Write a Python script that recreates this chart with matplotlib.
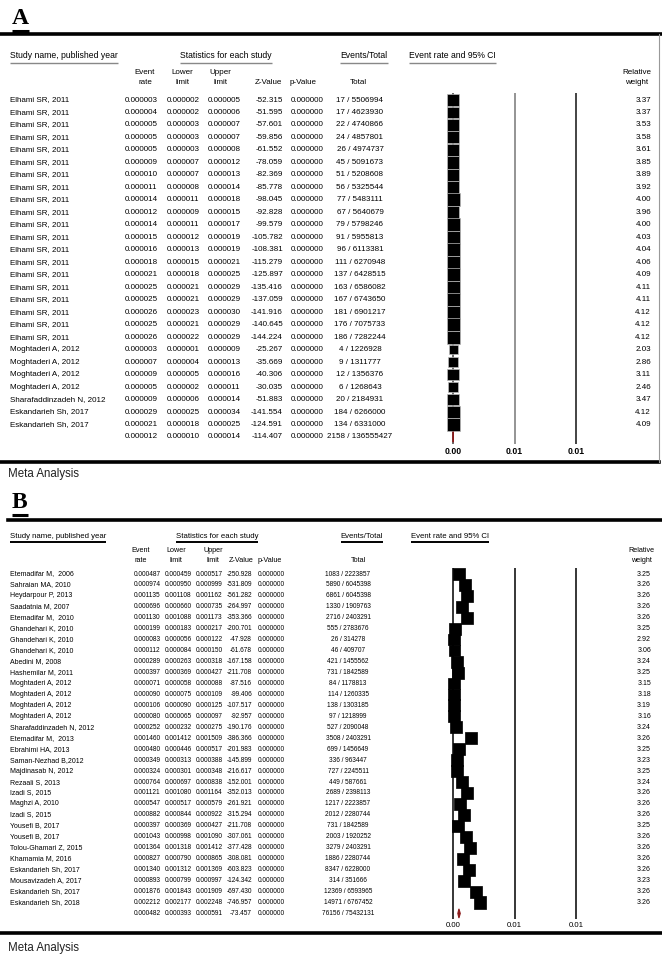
import numpy as np
import matplotlib.pyplot as plt
from matplotlib import font_manager
from matplotlib.ticker import FormatStrFormatter

plt.rcParams['font.family'] = ['Liberation Sans', 'DejaVu Sans']

# ---------------- Panel A data ----------------
a_names = ["Elhami SR, 2011"] * 20 + ["Moghtaderi A, 2012"] * 4 + \
          ["Sharafaddinzadeh N, 2012", "Eskandarieh Sh, 2017", "Eskandarieh Sh, 2017"]
a_rate = [0.000003, 0.000004, 0.000005, 0.000005, 0.000005, 0.000009, 0.000010, 0.000011,
          0.000014, 0.000012, 0.000014, 0.000015, 0.000016, 0.000018, 0.000021, 0.000025,
          0.000025, 0.000026, 0.000025, 0.000026, 0.000003, 0.000007, 0.000009, 0.000005,
          0.000009, 0.000029, 0.000021]
a_lower = [0.000002, 0.000002, 0.000003, 0.000003, 0.000003, 0.000007, 0.000007, 0.000008,
           0.000011, 0.000009, 0.000011, 0.000012, 0.000013, 0.000015, 0.000018, 0.000021,
           0.000021, 0.000023, 0.000021, 0.000022, 0.000001, 0.000004, 0.000005, 0.000002,
           0.000006, 0.000025, 0.000018]
a_upper = [0.000005, 0.000006, 0.000007, 0.000007, 0.000008, 0.000012, 0.000013, 0.000014,
           0.000018, 0.000015, 0.000017, 0.000019, 0.000019, 0.000021, 0.000025, 0.000029,
           0.000029, 0.000030, 0.000029, 0.000029, 0.000009, 0.000013, 0.000016, 0.000011,
           0.000014, 0.000034, 0.000025]
a_z = [-52.315, -51.595, -57.601, -59.856, -61.552, -78.059, -82.369, -85.778, -98.045,
       -92.828, -99.579, -105.782, -108.381, -115.279, -125.897, -135.416, -137.059,
       -141.916, -140.645, -144.224, -25.267, -35.669, -40.306, -30.035, -51.883,
       -141.554, -124.591]
a_events = [17, 17, 22, 24, 26, 45, 51, 56, 77, 67, 79, 91, 96, 111, 137, 163, 167, 181,
            176, 186, 4, 9, 12, 6, 20, 184, 134]
a_total = [5506994, 4623930, 4740866, 4857801, 4974737, 5091673, 5208608, 5325544, 5483111,
           5640679, 5798246, 5955813, 6113381, 6270948, 6428515, 6586082, 6743650, 6901217,
           7075733, 7282244, 1226928, 1311777, 1356376, 1268643, 2184931, 6266000, 6331000]
a_weight = [3.37, 3.37, 3.53, 3.58, 3.61, 3.85, 3.89, 3.92, 4.00, 3.96, 4.00, 4.03, 4.04,
            4.06, 4.09, 4.11, 4.11, 4.12, 4.12, 4.12, 2.03, 2.86, 3.11, 2.46, 3.47, 4.12, 4.09]
# pooled: rate, lower, upper, z, events, total
a_pooled = [0.000012, 0.000010, 0.000014, -114.407, 2158, 136555427]

# ---------------- Panel B data ----------------
b_names = ["Etemadifar M,  2006", "Sahraian MA, 2010", "Heydarpour P, 2013", "Saadatnia M, 2007",
           "Etemadifar M,  2010", "Ghandehari K, 2010", "Ghandehari K, 2010", "Ghandehari K, 2010",
           "Abedini M, 2008", "Hashemilar M, 2011", "Moghtaderi A, 2012", "Moghtaderi A, 2012",
           "Moghtaderi A, 2012", "Moghtaderi A, 2012", "Sharafaddinzadeh N, 2012",
           "Etemadifar M,  2013", "Ebrahimi HA, 2013", "Saman-Nezhad B,2012", "Majdinasab N, 2012",
           "Rezaali S, 2013", "Izadi S, 2015", "Maghzi A, 2010", "Izadi S, 2015", "Yousefi B, 2017",
           "Yousefi B, 2017", "Tolou-Ghamari Z, 2015", "Khamamia M, 2016", "Eskandarieh Sh, 2017",
           "Mousavizadeh A, 2017", "Eskandarieh Sh, 2017", "Eskandarieh Sh, 2018"]
b_rate = [0.000487, 0.000974, 0.001135, 0.000696, 0.001130, 0.000199, 0.000083, 0.000112,
          0.000289, 0.000397, 0.000071, 0.000090, 0.000106, 0.000080, 0.000252, 0.001460,
          0.000480, 0.000349, 0.000324, 0.000764, 0.001121, 0.000547, 0.000882, 0.000397,
          0.001043, 0.001364, 0.000827, 0.001340, 0.000893, 0.001876, 0.002212]
b_lower = [0.000459, 0.000950, 0.001108, 0.000660, 0.001088, 0.000183, 0.000056, 0.000084,
           0.000263, 0.000369, 0.000058, 0.000075, 0.000090, 0.000065, 0.000232, 0.001412,
           0.000446, 0.000313, 0.000301, 0.000697, 0.001080, 0.000517, 0.000844, 0.000369,
           0.000998, 0.001318, 0.000790, 0.001312, 0.000799, 0.001843, 0.002177]
b_upper = [0.000517, 0.000999, 0.001162, 0.000735, 0.001173, 0.000217, 0.000122, 0.000150,
           0.000318, 0.000427, 0.000088, 0.000109, 0.000125, 0.000097, 0.000275, 0.001509,
           0.000517, 0.000388, 0.000348, 0.000838, 0.001164, 0.000579, 0.000922, 0.000427,
           0.001090, 0.001412, 0.000865, 0.001369, 0.000997, 0.001909, 0.002248]
b_z = [-250.928, -531.809, -561.282, -264.997, -353.366, -200.701, -47.928, -61.678,
       -167.158, -211.708, -87.516, -99.406, -107.517, -92.957, -190.176, -386.366,
       -201.983, -145.899, -216.617, -152.001, -352.013, -261.921, -315.294, -211.708,
       -307.061, -377.428, -308.081, -603.823, -124.342, -697.430, -746.957]
b_events = [1083, 5890, 6861, 1330, 2716, 555, 26, 46, 421, 731, 84, 114, 138, 97, 527, 3508,
            699, 336, 727, 449, 2689, 1217, 2012, 731, 2003, 3279, 1886, 8347, 314, 12369, 14971]
b_total = [2223857, 6045398, 6045398, 1909763, 2403291, 2783676, 314278, 409707, 1455562,
           1842589, 1178813, 1260335, 1303185, 1218999, 2090048, 2403291, 1456649, 963447,
           2245511, 587661, 2398113, 2223857, 2280744, 1842589, 1920252, 2403291, 2280744,
           6228000, 351666, 6593965, 6767452]
b_weight = [3.25, 3.26, 3.26, 3.26, 3.26, 3.25, 2.92, 3.06, 3.24, 3.25, 3.15, 3.18, 3.19,
            3.16, 3.24, 3.26, 3.25, 3.23, 3.25, 3.24, 3.26, 3.26, 3.26, 3.25, 3.26, 3.26,
            3.26, 3.26, 3.23, 3.26, 3.26]
b_pooled = [0.000482, 0.000393, 0.000591, -73.457, 76156, 75432131]

ticks = [0, 0.005, 0.01]

# panel B text is set in a condensed face when one is available
installed = {f.name for f in font_manager.fontManager.ttflist}
has_narrow = 'Liberation Sans Narrow' in installed

W, H = 662, 960
fig = plt.figure(figsize=(W / 100, H / 100), dpi=100)
bg = fig.add_axes([0, 0, 1, 1])
bg.set_xlim(0, W)
bg.set_ylim(H, 0)
bg.axis('off')
renderer = fig.canvas.get_renderer()


def underline(t, dy, color, lw):
    bb = t.get_window_extent(renderer)
    y = H - bb.y0 + dy
    bg.plot([bb.x0, bb.x1], [y, y], color=color, lw=lw, solid_capstyle='butt')


def panel(letter, lay, names, rate, lower, upper, zval, events, total, weight, pooled):
    fs, nfs, hfs, fam = lay['fs'], lay['nfs'], lay['hfs'], lay['family']
    # panel letter
    t = bg.text(12, lay['y_letter'], letter, family='Liberation Serif', weight='bold',
                fontsize=17, va='center', ha='left')
    underline(t, 2, 'black', 2.2)
    # thick rules
    bg.plot([lay['rule_x0'], W], [lay['y_rule'], lay['y_rule']], color='black', lw=2.6)
    bg.plot([0, lay['bot_x1']], [lay['y_bot'], lay['y_bot']], color='black', lw=2.6)
    bg.text(8, lay['y_meta'], 'Meta Analysis', fontsize=8.3, va='center', color='#222222')

    # header row
    yh = lay['y_head']
    hc = lay['hcols']
    for txt, x, ha in [('Study name, published year', 10, 'left'),
                       ('Statistics for each study', hc['stats'], 'center'),
                       ('Events/Total', hc['evt'], 'center'),
                       ('Event rate and 95% CI', hc['ci'], 'left')]:
        t = bg.text(x, yh, txt, fontsize=hfs, ha=ha, va='center', family=fam)
        underline(t, lay['ul_dy'], lay['ul_color'], lay['ul_lw'])
    y1, y2 = lay['y_sub1'], lay['y_sub2']
    for top, bot, x in [('Event', 'rate', hc['rate']), ('Lower', 'limit', hc['lower']),
                        ('Upper', 'limit', hc['upper']), ('Relative', 'weight', hc['weight'])]:
        bg.text(x, y1, top, fontsize=hfs - 0.4, ha='center', va='center', family=fam)
        bg.text(x, y2, bot, fontsize=hfs - 0.4, ha='center', va='center', family=fam)
    for txt, x in [('Z-Value', hc['z']), ('p-Value', hc['p']), ('Total', hc['total'])]:
        bg.text(x, y2, txt, fontsize=hfs - 0.4, ha='center', va='center', family=fam)

    # table rows
    c = lay['cols']
    y0, pitch = lay['y0'], lay['pitch']
    n = len(names)
    rows = list(zip(names, rate, lower, upper, zval, events, total)) + \
        [('',) + tuple(pooled)]
    kw = dict(fontsize=fs, va='center', family=fam)
    for i, (nm, r, lo, hi, z, ev, tot) in enumerate(rows):
        y = y0 + i * pitch
        bg.text(10, y, nm, fontsize=nfs, va='center', family=fam)
        bg.text(c['rate'], y, f'{r:.6f}', ha='center', **kw)
        bg.text(c['lower'], y, f'{lo:.6f}', ha='center', **kw)
        bg.text(c['upper'], y, f'{hi:.6f}', ha='center', **kw)
        bg.text(c['z'], y, f'{z:.3f}', ha='right', **kw)
        bg.text(c['p'], y, '0.000000', ha='center', **kw)
        bg.text(c['total'], y, f'{ev} / {tot}', ha='center', **kw)
    for i, w in enumerate(weight):
        bg.text(c['weight'], y0 + i * pitch, f'{w:.2f}', ha='right', fontsize=nfs,
                va='center', family=fam)

    # forest plot axes (x in event-rate units, y in row units)
    px0, px1 = 405, 600
    top = y0 - 0.55 * pitch
    bottom = y0 + (n + 0.55) * pitch
    ax = fig.add_axes([px0 / W, 1 - bottom / H, (px1 - px0) / W, (bottom - top) / H])
    zero_px = 453
    scale = 12300.0
    ax.set_xlim((px0 - zero_px) / scale, (px1 - zero_px) / scale)
    ax.set_ylim(n + 0.55, -0.55)
    ax.patch.set_alpha(0)
    for s in ax.spines.values():
        s.set_visible(False)
    ax.set_yticks([])
    ax.set_xticks(ticks)
    ax.xaxis.set_major_formatter(FormatStrFormatter('%.2f'))
    ax.tick_params(axis='x', length=0, pad=2, labelsize=lay['tfs'])
    for lbl in ax.get_xticklabels():
        lbl.set_fontweight(lay['tick_weight'])
    for tk, col in zip(ticks, lay['line_colors']):
        ax.axvline(tk, color=col, lw=1.1, zorder=1)
    ax.scatter(rate, np.arange(n), s=lay['box_k'] * np.array(weight), marker='s',
               color='black', edgecolors=lay['box_edge'], linewidths=0.5, zorder=3)
    pr, plo, phi = pooled[0], pooled[1], pooled[2]
    ax.fill([plo, pr, phi, pr], [n, n - 0.42, n, n + 0.42], color='#8b1a1a',
            edgecolor='#8b1a1a', lw=0.8, zorder=4)
    if lay['border']:
        bg.plot([659, 659], [lay['y_rule'], lay['y_bot']], color='#999999', lw=0.8)


lay_a = dict(family='Liberation Sans', fs=5.8, nfs=5.8, hfs=6.2, tfs=6.2,
             y_letter=18, y_rule=34, y_bot=462, y_meta=474,
             rule_x0=0, bot_x1=659, y_head=55, y_sub1=72, y_sub2=83, y0=100, pitch=12.48,
             ul_dy=3, ul_color='#888888', ul_lw=1.0, tick_weight='bold',
             line_colors=['#444444', '#777777', '#111111'], box_k=21.0, box_edge='#bbbbbb',
             border=True,
             hcols=dict(stats=226, evt=364, ci=409, rate=145, lower=182, upper=220, z=268,
                        p=303, total=358, weight=637),
             cols=dict(rate=141, lower=183, upper=224, z=283, p=307, total=360, weight=651))

if has_narrow:
    b_font = dict(family='Liberation Sans Narrow', fs=5.6, nfs=6.0, hfs=6.6)
else:
    b_font = dict(family='Liberation Sans', fs=4.7, nfs=5.0, hfs=5.6)

lay_b = dict(tfs=5.6, y_letter=502, y_rule=520, y_bot=933, y_meta=948,
             rule_x0=8, bot_x1=W, y_head=536, y_sub1=551, y_sub2=561, y0=574, pitch=10.95,
             ul_dy=2.5, ul_color='black', ul_lw=1.4, tick_weight='normal',
             line_colors=['black', 'black', 'black'], box_k=23.0, box_edge='black',
             border=False,
             hcols=dict(stats=217, evt=362, ci=411, rate=141, lower=176, upper=213, z=241,
                        p=270, total=358, weight=641),
             cols=dict(rate=147, lower=178, upper=209, z=252, p=271, total=348, weight=651),
             **b_font)

panel('A', lay_a, a_names, a_rate, a_lower, a_upper, a_z, a_events, a_total, a_weight, a_pooled)
panel('B', lay_b, b_names, b_rate, b_lower, b_upper, b_z, b_events, b_total, b_weight, b_pooled)

fig.savefig('out.png', dpi=100, facecolor='white')
